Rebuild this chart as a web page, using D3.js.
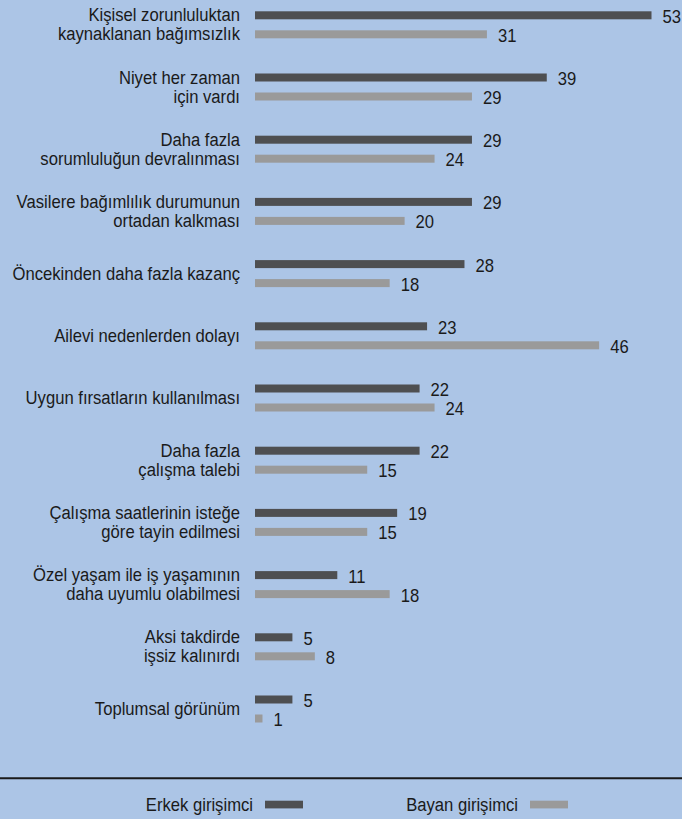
<!DOCTYPE html>
<html>
<head>
<meta charset="utf-8">
<script src="https://d3js.org/d3.v7.min.js"></script>
<style>
  body { margin: 0; background: #acc5e6; }
  svg text { font-family: "Liberation Sans", Arial, sans-serif; font-size: 18.5px; fill: #1a1a1a; }
</style>
</head>
<body>
<script>
// categories (each label split into its display lines)
var categories = [
  ["Kişisel zorunluluktan", "kaynaklanan bağımsızlık"],
  ["Niyet her zaman", "için vardı"],
  ["Daha fazla", "sorumluluğun devralınması"],
  ["Vasilere bağımlılık durumunun", "ortadan kalkması"],
  ["Öncekinden daha fazla kazanç"],
  ["Ailevi nedenlerden dolayı"],
  ["Uygun fırsatların kullanılması"],
  ["Daha fazla", "çalışma talebi"],
  ["Çalışma saatlerinin isteğe", "göre tayin edilmesi"],
  ["Özel yaşam ile iş yaşamının", "daha uyumlu olabilmesi"],
  ["Aksi takdirde", "işsiz kalınırdı"],
  ["Toplumsal görünüm"]
]
var erkek = [53, 39, 29, 29, 28, 23, 22, 22, 19, 11, 5, 5]
var bayan = [31, 29, 24, 20, 18, 46, 24, 15, 15, 18, 8, 1]
var seriesNames = ["Erkek girişimci", "Bayan girişimci"]
var colors = ["#4e4f51", "#9a9a9a"]

var width = 682, height = 819
var squeeze = 0.9  // condensed look of the original font
var svg = d3.select("body").append("svg")
    .attr("width", width)
    .attr("height", height)

function put(sel, x, y) {
  return sel.attr("transform", "translate(" + x + "," + y + ") scale(" + squeeze + ",1)")
}

var idx = d3.range(categories.length)
var y = d3.scaleBand()
    .domain(idx)
    .range([-6.3, -6.3 + 62.2 * categories.length])
    .padding(0)
var sub = d3.scalePoint().domain([0, 1]).range([-9.5, 9.5])
var x = d3.scaleLinear().domain([0, 53]).range([255, 651.5])
var barH = 8

var rows = idx.map(function(i) {
  return { i: i, label: categories[i], vals: [erkek[i], bayan[i]] }
})

var g = svg.append("g").selectAll("g")
    .data(rows)
    .enter().append("g")
    .attr("transform", function(d) { return "translate(0," + (y(d.i) + y.bandwidth() / 2) + ")" })

// category labels
g.each(function(d) {
  var sel = d3.select(this)
  var lines = d.label
  lines.forEach(function(t, k) {
    var yy = lines.length == 1 ? 6 : sub(k) + 6
    put(sel.append("text"), 240, yy)
      .attr("text-anchor", "end")
      .text(t)
  })
})

// bars
g.selectAll("rect")
    .data(function(d) { return d.vals.map(function(v, k) { return { v: v, k: k } }) })
    .enter().append("rect")
    .attr("x", x(0))
    .attr("y", function(d) { return sub(d.k) - barH / 2 })
    .attr("width", function(d) { return x(d.v) - x(0) })
    .attr("height", barH)
    .style("fill", function(d) { return colors[d.k] })

// value labels
g.selectAll("text.val")
    .data(function(d) { return d.vals.map(function(v, k) { return { v: v, k: k } }) })
    .enter().append("text")
    .attr("class", "val")
    .attr("transform", function(d) {
      return "translate(" + (x(d.v) + 11) + "," + (sub(d.k) + 7.5) + ") scale(" + squeeze + ",1)"
    })
    .text(function(d) { return d.v })

// separator line
svg.append("line")
    .attr("x1", 0).attr("x2", width)
    .attr("y1", 778.3).attr("y2", 778.3)
    .style("stroke", "#1a1a1a")
    .style("stroke-width", 2)

// legend
var legX = [253, 518]
var leg = svg.append("g").selectAll("g")
    .data(seriesNames)
    .enter().append("g")
    .attr("transform", function(d, k) { return "translate(" + legX[k] + ",0)" })
leg.append("text")
    .attr("transform", "translate(0,810.7) scale(" + squeeze + ",1)")
    .attr("text-anchor", "end")
    .text(function(d) { return d })
leg.append("rect")
    .attr("x", 12).attr("y", 800.7)
    .attr("width", 38).attr("height", 7.7)
    .style("fill", function(d, k) { return colors[k] })
</script>
</body>
</html>
